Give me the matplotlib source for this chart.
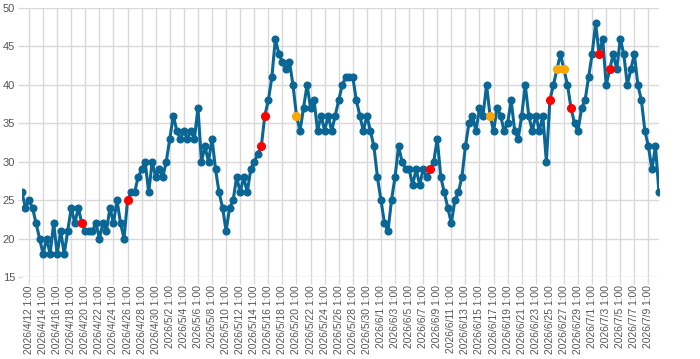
import pandas as pd
import matplotlib
matplotlib.use('Agg')
import matplotlib.pyplot as plt

plt.rcParams['font.family'] = ['Liberation Sans', 'DejaVu Sans']

# readings every 12 hours, starting 2026/4/11 1:00
start = '2026-04-11 01:00'
values = [
    26, 24, 25, 24, 22, 20, 18, 20, 18, 22,
    18, 21, 18, 21, 24, 22, 24, 22, 21, 21,
    21, 22, 20, 22, 21, 24, 22, 25, 22, 20,
    25, 26, 26, 28, 29, 30, 26, 30, 28, 29,
    28, 30, 33, 36, 34, 33, 34, 33, 34, 33,
    37, 30, 32, 30, 33, 29, 26, 24, 21, 24,
    25, 28, 26, 28, 26, 29, 30, 31, 32, 36,
    38, 41, 46, 44, 43, 42, 43, 40, 36, 34,
    37, 40, 37, 38, 34, 36, 34, 36, 34, 36,
    38, 40, 41, 41, 41, 38, 36, 34, 36, 34,
    32, 28, 25, 22, 21, 25, 28, 32, 30, 29,
    29, 27, 29, 27, 29, 28, 29, 30, 33, 28,
    26, 24, 22, 25, 26, 28, 32, 35, 36, 34,
    37, 36, 40, 36, 34, 37, 36, 34, 35, 38,
    34, 33, 36, 40, 36, 34, 36, 34, 36, 30,
    38, 40, 42, 44, 42, 40, 37, 35, 34, 37,
    38, 41, 44, 48, 44, 46, 40, 42, 44, 42,
    46, 44, 40, 42, 44, 40, 38, 34, 32, 29,
    32, 26,
]

# highlighted readings
red_dates = ['2026-04-19 13:00', '2026-04-26 01:00', '2026-05-15 01:00',
             '2026-05-15 13:00', '2026-06-08 01:00', '2026-06-25 01:00',
             '2026-06-28 01:00', '2026-07-02 01:00', '2026-07-03 13:00']
orange_dates = ['2026-05-20 01:00', '2026-06-16 13:00', '2026-06-26 01:00',
                '2026-06-27 01:00']

idx = pd.date_range(start, periods=len(values), freq='12h')
s = pd.Series(values, index=idx)

red = s.loc[pd.to_datetime(red_dates)]
orange = s.loc[pd.to_datetime(orange_dates)]

fig = plt.figure(figsize=(7.0, 3.59), dpi=100)
ax = fig.add_axes([0.0314, 0.2284, 0.9100, 0.7493])

ax.plot(s.index, s.values, color='#0a6694', lw=2.2, marker='o', ms=4.8, zorder=2)
ax.plot(red.index, red.values, 'o', color='#ff0000', ms=5.5, zorder=3)
ax.plot(orange.index, orange.values, 'o', color='#ffa500', ms=5.5, zorder=3)

ticks = pd.date_range('2026-04-12 01:00', '2026-07-09 01:00', freq='2D')
ax.set_xticks(ticks)
ax.set_xticklabels([f"{d.year}/{d.month}/{d.day} {d.hour}:{d.minute:02d}" for d in ticks],
                   rotation=90, fontsize=7.4, color='#555555')
ax.set_xlim(s.index[0], s.index[-1])

ax.set_ylim(15, 50)
ax.set_yticks(range(15, 51, 5))
ax.tick_params(axis='y', labelsize=8, labelcolor='#555555', pad=2, length=3)
ax.tick_params(axis='x', pad=1, length=5)
ax.tick_params(color='#d9d9d9', width=1)

ax.grid(color='#d9d9d9', lw=1)
ax.set_axisbelow(True)
for sp in ax.spines.values():
    sp.set_visible(False)

fig.savefig('out.png', dpi=100)
